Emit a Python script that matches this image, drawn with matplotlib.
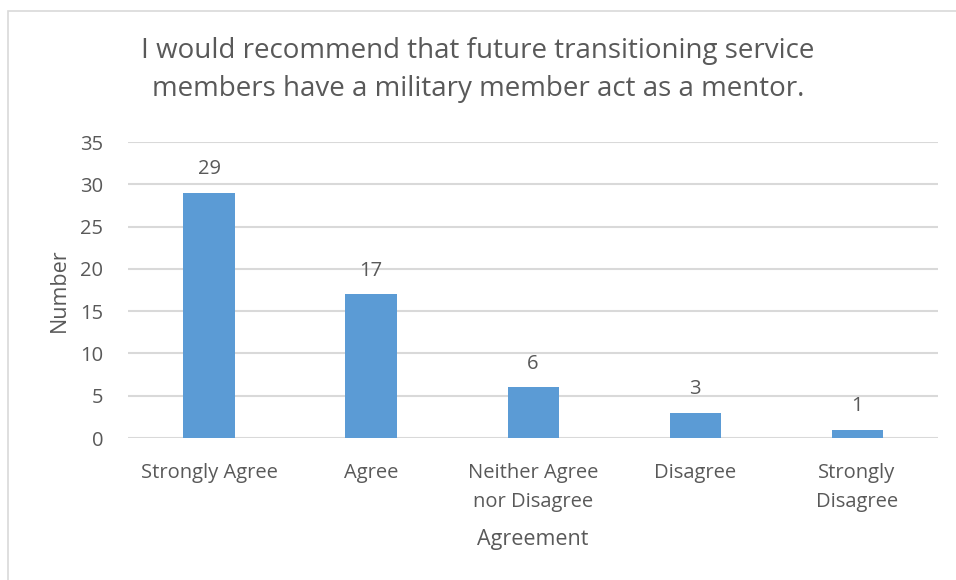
import matplotlib.pyplot as plt
from matplotlib.patches import Rectangle

categories = ["Strongly Agree", "Agree", "Neither Agree\nnor Disagree", "Disagree", "Strongly\nDisagree"]
counts = [29, 17, 6, 3, 1]
yticks = [0, 5, 10, 15, 20, 25, 30, 35]

title = "I would recommend that future transitioning service\nmembers have a military member act as a mentor."

text_color = "#595959"
grid_color = "#d9d9d9"
bar_color = "#5b9bd5"

plt.rcParams['font.family'] = ['Open Sans', 'DejaVu Sans']

fig = plt.figure(figsize=(9.56, 5.8), dpi=100)
ax = fig.add_axes([0.1339, 0.2448, 0.8473, 0.5103])

# outer chart frame
fig.patches.append(Rectangle((8 / 956, -0.1), 1.2, 0.981 + 0.1, transform=fig.transFigure,
                             fill=False, edgecolor=grid_color, linewidth=1.2))

x = range(len(categories))
ax.bar(x, counts, width=0.315, color=bar_color, zorder=3)
for xi, v in zip(x, counts):
    ax.annotate(str(v), (xi, v), xytext=(0, 17), textcoords="offset points",
                ha="center", va="center", fontsize=14.5, color=text_color)

ax.set_xlim(-0.5, len(categories) - 0.5)
ax.set_ylim(0, 35)
ax.set_yticks(yticks)
ax.set_xticks(list(x))
ax.set_xticklabels(categories, linespacing=1.6)
ax.tick_params(axis="both", length=0, colors=text_color, labelsize=14.5)
ax.tick_params(axis="x", pad=18)
ax.tick_params(axis="y", pad=18)
ax.grid(axis="y", color=grid_color, linewidth=1.5, zorder=0)
for s in ax.spines.values():
    s.set_visible(False)

ax.set_xlabel("Agreement", fontsize=15.5, color=text_color, labelpad=12)
ax.set_ylabel("Number", fontsize=15.5, color=text_color, labelpad=7)
fig.text(0.5, 0.879, title, ha="center", va="center", fontsize=20,
         color=text_color, linespacing=1.5)

fig.savefig("out.png", dpi=100)
